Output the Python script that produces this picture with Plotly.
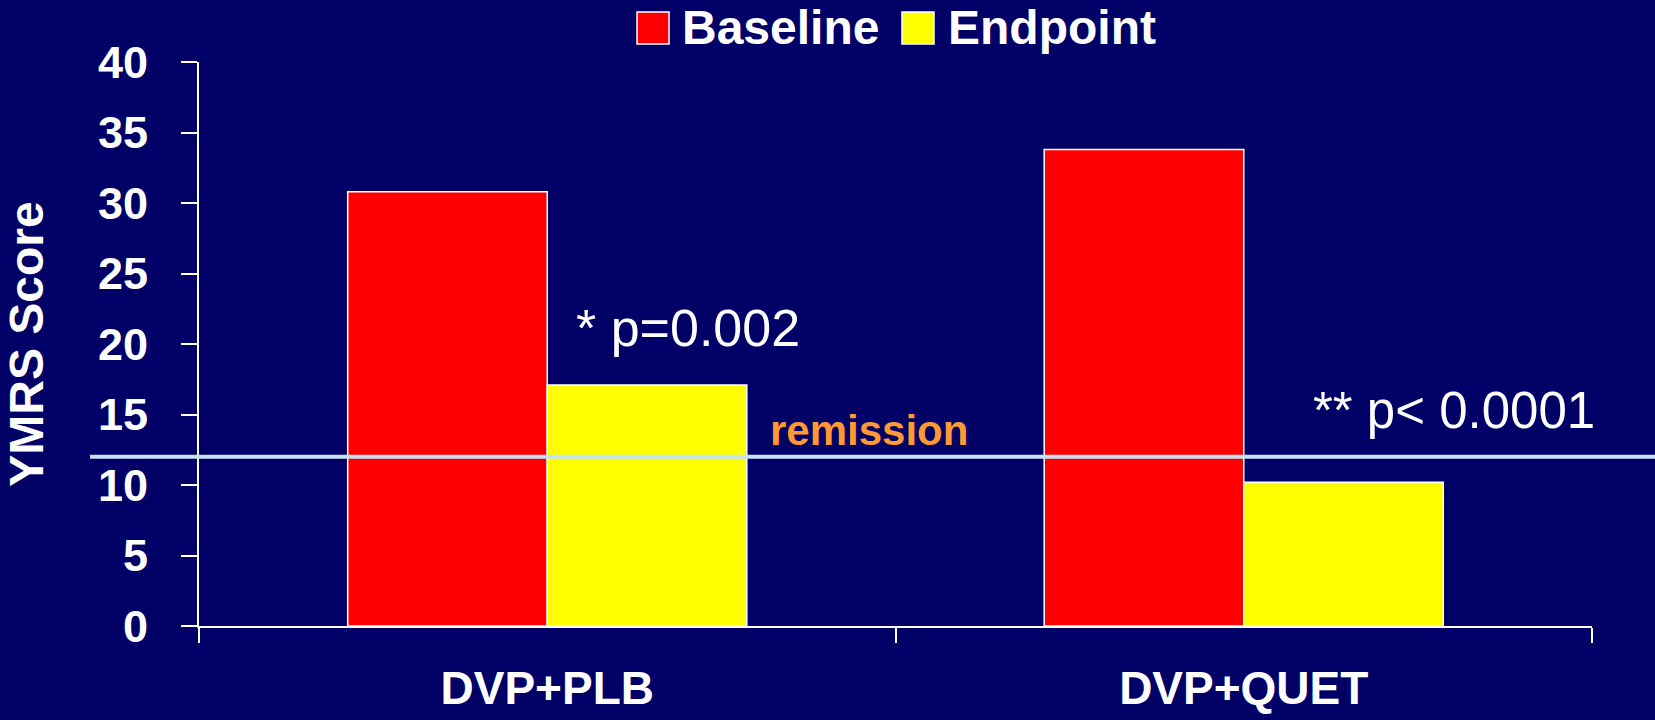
import plotly.graph_objects as go

# ---- data ----
categories = ["DVP+PLB", "DVP+QUET"]
series_names = ["Baseline", "Endpoint"]
baseline = [30.8, 33.8]
endpoint = [17.1, 10.2]
remission_level = 12
y_ticks = [0, 5, 10, 15, 20, 25, 30, 35, 40]
y_title = "YMRS Score"
p_labels = ["* p=0.002", "** p< 0.0001"]
remission_label = "remission"

# ---- style ----
BG = "#000066"
RED = "#FF0000"
YELLOW = "#FFFF00"
WHITE = "#FFFFFF"
FONT = "Liberation Sans"
W, H = 1655, 720
L, R, T, B = 199, 63, 62, 94
PW, PH = W - L - R, H - T - B


def px_x(x):
    return (x - L) / PW


def px_y(y):
    return (H - B - y) / PH


fig = go.Figure()
fig.add_trace(go.Bar(
    x=categories, y=baseline, name=series_names[0],
    marker=dict(color=RED, line=dict(color=WHITE, width=1.5)),
    showlegend=False,
))
fig.add_trace(go.Bar(
    x=categories, y=endpoint, name=series_names[1],
    marker=dict(color=YELLOW, line=dict(color=WHITE, width=1.5)),
    showlegend=False,
))

shapes = [
    # remission line
    dict(type="line", xref="paper", yref="y",
         x0=px_x(90), x1=px_x(1660), y0=remission_level, y1=remission_level,
         line=dict(color="#C6E2F5", width=4), layer="above"),
    # manual legend squares
    dict(type="rect", xref="paper", yref="paper",
         x0=px_x(637), x1=px_x(669), y0=px_y(44), y1=px_y(12),
         fillcolor=RED, line=dict(color=WHITE, width=1.5)),
    dict(type="rect", xref="paper", yref="paper",
         x0=px_x(902), x1=px_x(934), y0=px_y(44), y1=px_y(12),
         fillcolor=YELLOW, line=dict(color=WHITE, width=1.5)),
]

annotations = [
    dict(text=series_names[0], xref="paper", yref="paper",
         x=px_x(680), y=px_y(28), xanchor="left", yanchor="middle",
         showarrow=False, font=dict(family=FONT, size=48, color=WHITE, weight="bold")),
    dict(text=series_names[1], xref="paper", yref="paper",
         x=px_x(946), y=px_y(28), xanchor="left", yanchor="middle",
         showarrow=False, font=dict(family=FONT, size=48, color=WHITE, weight="bold")),
    dict(text=p_labels[0], xref="paper", yref="paper",
         x=px_x(688), y=px_y(328), xanchor="center", yanchor="middle",
         showarrow=False, font=dict(family=FONT, size=52, color=WHITE)),
    dict(text=p_labels[1], xref="paper", yref="paper",
         x=px_x(1454), y=px_y(410), xanchor="center", yanchor="middle",
         showarrow=False, font=dict(family=FONT, size=51, color=WHITE)),
    dict(text=remission_label, xref="paper", yref="paper",
         x=px_x(869), y=px_y(430), xanchor="center", yanchor="middle",
         showarrow=False, font=dict(family=FONT, size=42, color="#FF9933", weight="bold")),
]

fig.update_layout(
    width=W, height=H, autosize=False,
    margin=dict(l=L, r=R, t=T, b=B, pad=0),
    paper_bgcolor=BG, plot_bgcolor=BG,
    barmode="group", bargap=0.427, bargroupgap=0,
    showlegend=False,
    shapes=shapes, annotations=annotations,
    font=dict(family=FONT, color=WHITE),
)
fig.update_xaxes(
    type="category", categoryorder="array", categoryarray=categories,
    automargin=False,
    tickson="boundaries", ticks="outside", ticklen=15, tickwidth=2, tickcolor=WHITE,
    showline=True, linecolor=WHITE, linewidth=2, showgrid=False, zeroline=False,
    tickfont=dict(family=FONT, size=46, color=WHITE, weight="bold"),
    ticklabelstandoff=21,
)
fig.update_yaxes(
    range=[0, 40], tickvals=y_ticks, ticktext=[str(v) for v in y_ticks],
    automargin=False,
    ticks="outside", ticklen=16, tickwidth=2, tickcolor=WHITE,
    showline=True, linecolor=WHITE, linewidth=2, showgrid=False, zeroline=False,
    tickfont=dict(family=FONT, size=45, color=WHITE, weight="bold"),
    ticklabelstandoff=24,
    title=dict(text=y_title, font=dict(family=FONT, size=48, color=WHITE, weight="bold"),
               standoff=44),
)

fig.write_html("out.html")
